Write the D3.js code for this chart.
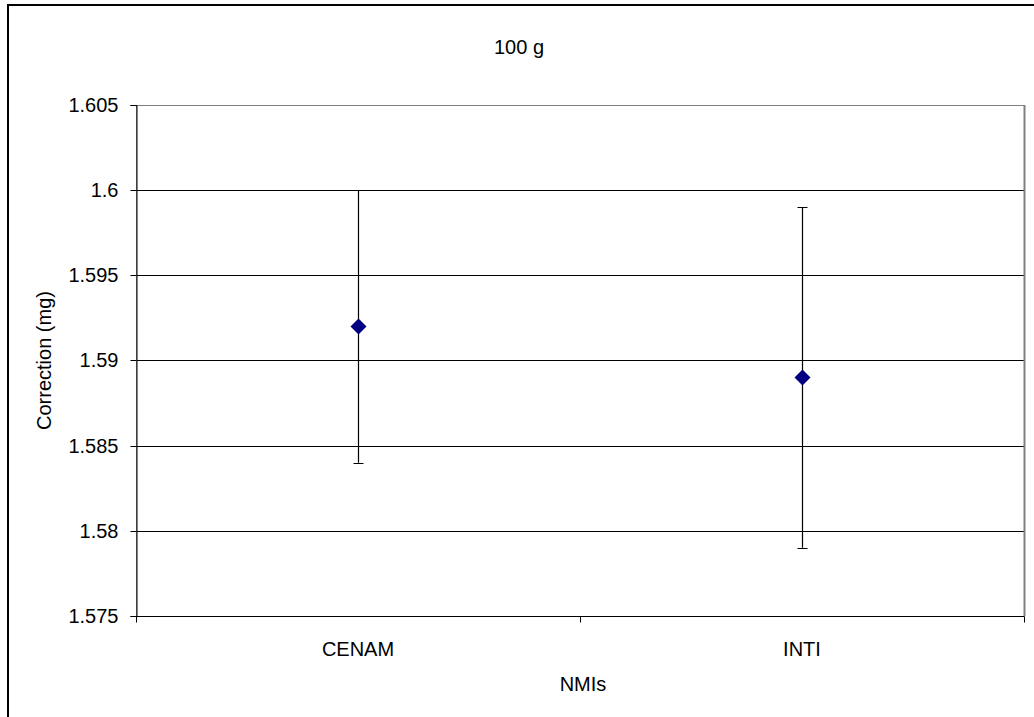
<!DOCTYPE html>
<html>
<head>
<meta charset="utf-8">
<script src="https://cdn.jsdelivr.net/npm/d3@7"></script>
<style>
  body { margin: 0; background: #fff; }
  text { font-family: "Liberation Sans", Arial, sans-serif; fill: #000; }
</style>
</head>
<body>
<div id="chart"></div>
<script>
var labs = ["CENAM", "INTI"];
var values = [1.592, 1.589];
var lows = [1.584, 1.579];
var highs = [1.600, 1.599];
var yTicks = [1.575, 1.58, 1.585, 1.59, 1.595, 1.6, 1.605];

var fontSize = "20px";

var totalWidth = 1034,
    totalHeight = 717,
    margin = {top: 105, right: 10, bottom: 101, left: 136},
    width = 1024 - margin.left,
    height = 616 - margin.top;

var svg = d3.select("#chart")
    .append("svg")
    .attr("width", totalWidth)
    .attr("height", totalHeight);

// outer frame (cut off at right and bottom)
svg.append("rect")
    .attr("x", 8).attr("y", 5)
    .attr("width", 1040).attr("height", 730)
    .attr("fill", "none")
    .attr("stroke", "#000")
    .attr("stroke-width", 2);

var chartgroup = svg.append("g")
    .attr("transform", "translate(" + margin.left + "," + margin.top + ")");

var x = d3.scaleBand()
    .domain(labs)
    .range([0, width]);

var y = d3.scaleLinear()
    .domain([1.575, 1.605])
    .range([height, 0]);

// gridlines
chartgroup.append("g")
    .selectAll("line")
    .data(yTicks.slice(1, -1))
    .enter()
    .append("line")
    .attr("x1", 0).attr("x2", width)
    .attr("y1", d => Math.round(y(d)) + 0.5)
    .attr("y2", d => Math.round(y(d)) + 0.5)
    .attr("stroke", "#000")
    .attr("stroke-width", 1);

// plot area border
chartgroup.append("rect")
    .attr("x", 0.5).attr("y", 0.5)
    .attr("width", width).attr("height", height)
    .attr("fill", "none")
    .attr("stroke", "#808080")
    .attr("stroke-width", 1);
chartgroup.append("line")
    .attr("x1", width + 0.5).attr("x2", width + 0.5)
    .attr("y1", 0).attr("y2", height)
    .attr("stroke", "#808080")
    .attr("stroke-width", 2);

var yAxis = chartgroup.append("g")
    .attr("transform", "translate(0.5,0)")
    .call(d3.axisLeft(y).tickValues(yTicks).tickSize(6).tickPadding(12)
        .tickFormat(d => d3.format("")(+d.toFixed(3))));
yAxis.select(".domain").attr("stroke", "#000");
yAxis.selectAll(".tick line").attr("stroke", "#000");
yAxis.selectAll("text").style("font-size", fontSize).style("fill", "#000");
yAxis.selectAll(".tick").attr("transform", d => "translate(0," + (Math.round(y(d)) + 0.5) + ")");

var xAxis = chartgroup.append("g")
    .attr("transform", "translate(0," + (height + 0.5) + ")");
xAxis.append("line")
    .attr("x1", 0).attr("x2", width)
    .attr("stroke", "#000");
xAxis.selectAll("tick")
    .data([0, width / 2, width])
    .enter()
    .append("line")
    .attr("x1", d => Math.round(d) + 0.5).attr("x2", d => Math.round(d) + 0.5)
    .attr("y1", 0).attr("y2", 6)
    .attr("stroke", "#000");
xAxis.selectAll("lab")
    .data(labs)
    .enter()
    .append("text")
    .text(d => d)
    .attr("x", d => x(d) + x.bandwidth() / 2)
    .attr("y", 39)
    .attr("text-anchor", "middle")
    .style("font-size", fontSize);

// error bars
var pts = labs.map((d, i) => ({name: d, v: values[i], lo: lows[i], hi: highs[i]}));
var cx = d => Math.round(x(d.name) + x.bandwidth() / 2) + 0.5;

var eb = chartgroup.append("g");
eb.selectAll("line.v")
    .data(pts).enter().append("line")
    .attr("x1", cx).attr("x2", cx)
    .attr("y1", d => y(d.hi)).attr("y2", d => y(d.lo))
    .attr("stroke", "#000").attr("stroke-width", 1.2);
eb.selectAll("line.hi")
    .data(pts).enter().append("line")
    .attr("x1", d => cx(d) - 5).attr("x2", d => cx(d) + 5)
    .attr("y1", d => Math.round(y(d.hi)) + 0.5).attr("y2", d => Math.round(y(d.hi)) + 0.5)
    .attr("stroke", "#000");
eb.selectAll("line.lo")
    .data(pts).enter().append("line")
    .attr("x1", d => cx(d) - 5).attr("x2", d => cx(d) + 5)
    .attr("y1", d => Math.round(y(d.lo)) + 0.5).attr("y2", d => Math.round(y(d.lo)) + 0.5)
    .attr("stroke", "#000");

// markers
chartgroup.append("g")
    .selectAll("path")
    .data(pts).enter().append("path")
    .attr("d", d => {
        var px = cx(d), py = y(d.v), r = 8;
        return "M" + px + "," + (py - r) + "L" + (px + r) + "," + py + "L" + px + "," + (py + r) + "L" + (px - r) + "," + py + "Z";
    })
    .attr("fill", "#000080");

// titles
svg.append("text")
    .text("100 g")
    .attr("x", 519).attr("y", 54)
    .attr("text-anchor", "middle")
    .style("font-size", fontSize);

svg.append("text")
    .text("NMIs")
    .attr("x", margin.left + width / 2 + 3).attr("y", 691)
    .attr("text-anchor", "middle")
    .style("font-size", fontSize);

svg.append("text")
    .text("Correction (mg)")
    .attr("transform", "translate(51," + (margin.top + height / 2) + ") rotate(-90)")
    .attr("text-anchor", "middle")
    .style("font-size", fontSize);
</script>
</body>
</html>
